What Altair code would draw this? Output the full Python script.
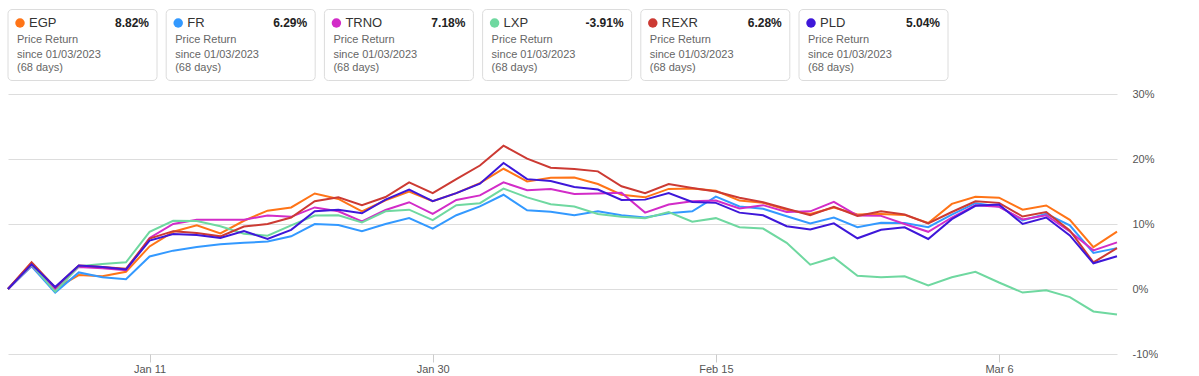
import altair as alt
import pandas as pd

FONT = "Liberation Sans"

TICKERS = ["EGP", "FR", "TRNO", "LXP", "REXR", "PLD"]
COLORS = ["#FF7417", "#3399FF", "#D22CC8", "#6FD8A0", "#CC3A33", "#3E17D9"]
RETURNS = ["8.82%", "6.29%", "7.18%", "-3.91%", "6.28%", "5.04%"]
SUBTITLE = "Price Return"
SINCE = "since 01/03/2023"
DAYS = "(68 days)"

TICK_IDX = [6, 18, 30, 42]
TICK_LABELS = ["Jan 11", "Jan 30", "Feb 15", "Mar 6"]
Y_TICKS = [-10, 0, 10, 20, 30]

EGP = [0, 4.0, 0.05, 2.15, 1.95, 2.65, 6.55, 8.8, 9.8, 8.55, 10.5, 12.05,
       12.55, 14.7, 13.85, 11.95, 13.65, 15.0, 13.5, 14.75, 16.3, 18.5, 16.55, 17.1,
       17.15, 16.15, 14.5, 14.1, 15.4, 15.45, 15.1, 13.6, 13.25, 12.2, 11.55, 12.55,
       11.45, 11.55, 11.4, 10.15, 13.1, 14.2, 14.05, 12.2, 12.85, 10.65, 6.45, 8.82]
FR = [0, 3.5, -0.55, 2.55, 1.8, 1.5, 5.0, 5.9, 6.45, 6.9, 7.1, 7.3,
      8.1, 10.0, 9.85, 8.9, 10.0, 10.9, 9.3, 11.35, 12.7, 14.5, 12.1, 11.9,
      11.35, 11.95, 11.35, 11.0, 11.65, 11.95, 14.2, 12.7, 12.35, 11.2, 10.1, 11.0,
      9.5, 10.2, 10.15, 9.5, 11.45, 13.2, 12.7, 10.55, 11.55, 9.8, 5.55, 6.29]
TRNO = [0, 3.6, -0.1, 3.4, 3.2, 2.9, 7.85, 10.0, 10.67, 10.67, 10.67, 11.3,
        11.1, 12.55, 11.95, 10.4, 12.15, 13.35, 11.55, 13.7, 14.4, 16.4, 15.2, 15.4,
        14.6, 14.7, 14.8, 11.75, 13.0, 13.5, 13.6, 12.4, 12.9, 11.85, 11.95, 13.4,
        11.3, 11.25, 10.0, 8.8, 11.0, 12.9, 12.65, 10.7, 11.35, 8.85, 5.95, 7.18]
LXP = [0, 3.7, -0.4, 3.5, 3.85, 4.1, 8.8, 10.5, 10.45, 9.65, 8.5, 8.2,
       9.8, 11.3, 11.35, 10.25, 11.95, 12.2, 10.6, 12.9, 13.2, 15.45, 14.1, 13.05,
       12.7, 11.55, 11.1, 10.9, 11.85, 10.35, 10.9, 9.5, 9.3, 7.1, 3.75, 4.85,
       2.05, 1.8, 1.95, 0.55, 1.8, 2.65, 1.0, -0.55, -0.2, -1.25, -3.45, -3.91]
REXR = [0, 4.1, 0.25, 3.6, 3.4, 3.1, 7.75, 8.9, 8.6, 8.1, 9.6, 10.0,
        11.0, 13.5, 14.1, 12.9, 14.15, 16.4, 14.75, 16.9, 19.0, 22.05, 20.05, 18.65,
        18.45, 18.1, 15.8, 14.75, 16.15, 15.55, 15.0, 14.05, 13.35, 12.35, 11.35, 12.65,
        11.25, 11.95, 11.45, 10.1, 11.85, 13.5, 13.25, 11.15, 11.85, 9.0, 4.1, 6.28]
PLD = [0, 3.8, 0.3, 3.6, 3.4, 3.0, 7.45, 8.45, 8.3, 7.85, 8.9, 7.7,
       9.1, 11.95, 12.2, 11.65, 13.75, 15.3, 13.5, 14.75, 16.2, 19.4, 16.9, 16.6,
       15.7, 15.3, 13.7, 13.75, 14.75, 13.4, 13.25, 11.75, 11.35, 9.65, 9.15, 10.1,
       7.8, 9.1, 9.5, 7.7, 10.75, 12.8, 13.0, 10.0, 11.0, 8.25, 3.95, 5.04]

SERIES = {"EGP": EGP, "FR": FR, "TRNO": TRNO, "LXP": LXP, "REXR": REXR, "PLD": PLD}

PLOT_W = 1109
PLOT_H = 260
CARD_STEP = 158.2
CARD_W = 149

# ---------- line chart ----------
rows = []
for k, t in enumerate(TICKERS):
    for i, v in enumerate(SERIES[t]):
        rows.append({"idx": i, "ticker": t, "value": v, "k": k})
df = pd.DataFrame(rows)

label_expr = " : ".join(f"datum.value == {i} ? '{l}'" for i, l in zip(TICK_IDX, TICK_LABELS)) + " : ''"
color_scale = alt.Scale(domain=TICKERS, range=COLORS)

lines = alt.Chart(df).mark_line(strokeWidth=2).encode(
    x=alt.X("idx:Q",
            scale=alt.Scale(domain=[0, len(EGP) - 1], nice=False, zero=False),
            axis=alt.Axis(values=TICK_IDX, labelExpr=label_expr, grid=False, domain=False,
                          ticks=True, tickSize=8, tickColor="#cccccc", labelPadding=1,
                          labelFontSize=11, labelColor="#555555", labelFont=FONT,
                          title=None)),
    y=alt.Y("value:Q",
            scale=alt.Scale(domain=[-10, 30], nice=False, zero=False),
            axis=alt.Axis(orient="right", values=Y_TICKS, labelExpr="datum.value + '%'",
                          grid=True, gridColor="#dddddd", gridWidth=1, domain=False,
                          ticks=False, labelPadding=15, labelFontSize=11,
                          labelColor="#555555", labelFont=FONT, title=None)),
    color=alt.Color("ticker:N", scale=color_scale, legend=None),
    order=alt.Order("k:Q"),
    detail="ticker:N",
).properties(width=PLOT_W, height=PLOT_H)

# ---------- legend cards ----------
cards = pd.DataFrame({
    "i": list(range(len(TICKERS))),
    "ticker": TICKERS,
    "ret": RETURNS,
    "sub": [SUBTITLE] * len(TICKERS),
    "since": [SINCE] * len(TICKERS),
    "days": [DAYS] * len(TICKERS),
})
xs = alt.Scale(domain=[0, PLOT_W / CARD_STEP], nice=False, zero=False)

base = alt.Chart(cards).transform_calculate(
    left="datum.i",
    right=f"datum.i + {CARD_W / CARD_STEP}",
    dot=f"datum.i + {12 / CARD_STEP}",
    tk=f"datum.i + {21 / CARD_STEP}",
    txt=f"datum.i + {9 / CARD_STEP}",
    val=f"datum.i + {141 / CARD_STEP}",
)

rect = base.mark_rect(fill="white", stroke="#dcdcdc", strokeWidth=1, cornerRadius=4).encode(
    x=alt.X("left:Q", scale=xs, axis=None), x2="right:Q",
    y=alt.value(9.5), y2=alt.value(80.5))
dot = base.mark_circle(size=90, opacity=1).encode(
    x=alt.X("dot:Q", scale=xs, axis=None), y=alt.value(23),
    color=alt.Color("ticker:N", scale=color_scale, legend=None))
tick_txt = base.mark_text(align="left", baseline="middle", fontSize=13, color="#333333", font=FONT).encode(
    x=alt.X("tk:Q", scale=xs, axis=None), y=alt.value(23), text="ticker:N")
val_txt = base.mark_text(align="right", baseline="middle", fontSize=12, fontWeight="bold", color="#222222", font=FONT).encode(
    x=alt.X("val:Q", scale=xs, axis=None), y=alt.value(23), text="ret:N")
sub_txt = base.mark_text(align="left", baseline="middle", fontSize=11, color="#666666", font=FONT).encode(
    x=alt.X("txt:Q", scale=xs, axis=None), y=alt.value(40), text="sub:N")
since_txt = base.mark_text(align="left", baseline="middle", fontSize=11, color="#666666", font=FONT).encode(
    x=alt.X("txt:Q", scale=xs, axis=None), y=alt.value(55), text="since:N")
days_txt = base.mark_text(align="left", baseline="middle", fontSize=11, color="#666666", font=FONT).encode(
    x=alt.X("txt:Q", scale=xs, axis=None), y=alt.value(68), text="days:N")

top = alt.layer(rect, dot, tick_txt, val_txt, sub_txt, since_txt, days_txt).properties(
    width=PLOT_W, height=94)

chart = alt.vconcat(top, lines, spacing=0, bounds="flush").properties(
    padding={"left": 4, "top": 0, "right": 0, "bottom": 0},
    background="white",
).configure_view(strokeWidth=0)

chart.save("out.html", embed_options={"renderer": "svg", "actions": False})
